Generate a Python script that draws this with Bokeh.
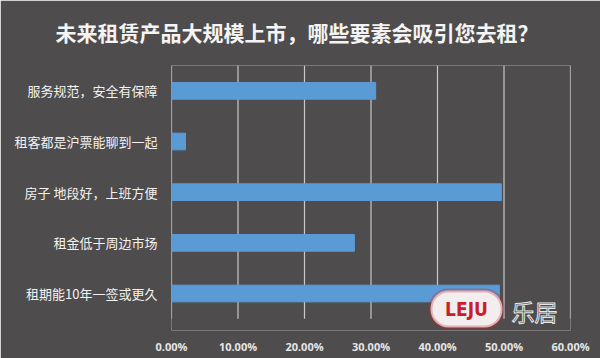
from bokeh.plotting import figure
from bokeh.models import Range1d, NumeralTickFormatter, FixedTicker, Label, BoxAnnotation
from bokeh.embed import file_html
from bokeh.resources import INLINE

categories = ["租期能10年一签或更久", "租金低于周边市场", "房子 地段好，上班方便",
              "租客都是沪票能聊到一起", "服务规范，安全有保障"]
values = [0.493, 0.275, 0.496, 0.021, 0.307]
x_ticks = [0.0, 0.1, 0.2, 0.3, 0.4, 0.5, 0.6]
title = "未来租赁产品大规模上市，哪些要素会吸引您去租？"

BG = "#4e4c4c"
FONT = "Noto Sans CJK SC"
ypos = list(range(len(categories)))

p = figure(width=600, height=358, y_range=Range1d(-0.73, len(categories) - 0.5),
           x_range=Range1d(0, 0.6), output_backend="svg", toolbar_location=None,
           min_border_left=171, min_border_right=30, min_border_top=58, min_border_bottom=28,
           title=title)
p.background_fill_color = BG
p.border_fill_color = BG
p.outline_line_color = None

p.title.align = "left"
p.title.offset = -116
p.title.vertical_align = "top"
p.title.text_color = "#f4f4f4"
p.title.text_font = FONT
p.title.text_font_size = "21px"
p.title.text_font_style = "bold"
p.title.standoff = 33

# gridlines spanning only the category bands
p.segment(x0=x_ticks, x1=x_ticks, y0=[-0.5] * len(x_ticks),
          y1=[len(categories) - 0.5] * len(x_ticks), line_color="#c8c8c8", line_width=1.2)
p.hbar(y=ypos, right=values, left=0, height=0.33, color="#5b9bd5")

p.xgrid.grid_line_color = None
p.ygrid.grid_line_color = None

p.xaxis.ticker = FixedTicker(ticks=x_ticks)
p.xaxis.formatter = NumeralTickFormatter(format="0.00%")
p.xaxis.axis_line_color = None
p.xaxis.major_tick_line_color = None
p.xaxis.minor_tick_line_color = None
p.xaxis.major_label_text_color = "#e6e6e6"
p.xaxis.major_label_text_font = "Open Sans"
p.xaxis.major_label_text_font_style = "bold"
p.xaxis.major_label_text_font_size = "11px"
p.xaxis.major_label_standoff = 2

p.yaxis.ticker = FixedTicker(ticks=ypos)
p.yaxis.major_label_overrides = {i: c for i, c in zip(ypos, categories)}
p.yaxis.axis_line_color = None
p.yaxis.major_tick_line_color = None
p.yaxis.minor_tick_line_color = None
p.yaxis.major_label_text_color = "#f2f2f2"
p.yaxis.major_label_text_font = FONT
p.yaxis.major_label_text_font_size = "13px"
p.yaxis.major_label_standoff = 8

# watermark logo
p.add_layout(BoxAnnotation(left=430, right=502, top=290, bottom=327,
                           left_units="canvas", right_units="canvas",
                           top_units="canvas", bottom_units="canvas",
                           fill_color="#f2eeee", fill_alpha=1.0, line_color="#c8202a",
                           line_width=4, border_radius=18, level="overlay"))
p.add_layout(Label(x=466, y=308, x_units="canvas", y_units="canvas", text="LEJU",
                   text_align="center", text_baseline="middle", text_color="#c8202a",
                   text_font="DejaVu Sans Condensed", text_font_style="bold",
                   text_font_size="19px", level="overlay"))
p.add_layout(Label(x=534, y=310, x_units="canvas", y_units="canvas", text="乐居",
                   text_align="center", text_baseline="middle", text_color="#333333",
                   text_outline_color="#e8e8e8", text_font=FONT, text_font_size="23px",
                   level="overlay"))

open("out.html", "w").write(file_html(p, INLINE))
